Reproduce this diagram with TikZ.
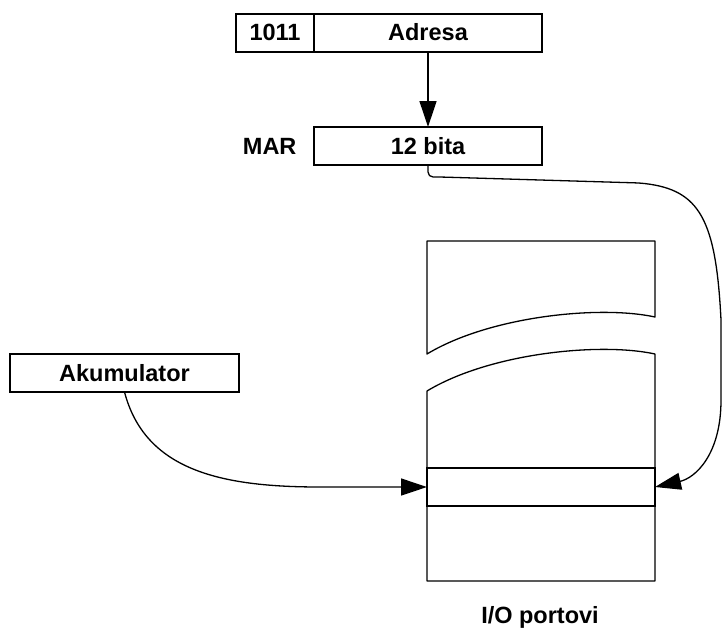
\documentclass[tikz,border=0pt]{standalone}
\usepackage{fontspec}
\setmainfont{Liberation Sans}
\usetikzlibrary{arrows.meta,positioning}

\begin{document}
\begin{tikzpicture}[x=1pt,y=-1pt,
    reg/.style={draw, line width=2pt, outer sep=0pt, inner sep=0pt,
        minimum height=38pt, font=\bfseries\fontsize{23.5}{28}\selectfont},
    mem/.style={draw, line width=1.3pt},
    tok/.style={line width=1.3pt, -{Triangle[length=26pt,width=17pt]}}]
    \useasboundingbox (0,0) rectangle (723,629);

    % Adresa i MAR
    \node[reg, minimum width=78pt] (bitovi) at (275,32.5) {1011};
    \node[reg, minimum width=228pt] (adresa) at (428,32.5) {Adresa};
    \node[reg, minimum width=228pt] (mar) at (428,146) {12 bita};
    \node[font=\bfseries\fontsize{23.5}{28}\selectfont, left=14pt of mar] (marlabel) {MAR};
    \draw[tok] (adresa.south) -- (mar.north);

    % Akumulator
    \node[reg, minimum width=229pt] (akumulator) at (124.5,373) {Akumulator};

    % I/O portovi
    \draw[mem, line join=round] (427,241) -- (655,241) -- (655,317)
        .. controls (600,305) and (490,316) .. (427,354) -- cycle;
    \draw[mem, line join=round] (427,581) -- (427,391)
        .. controls (490,353) and (600,342) .. (655,354) -- (655,581) -- cycle;
    \node[mem, minimum width=228pt, minimum height=38pt, outer sep=0pt] (slot) at (541,487) {};
    \node[font=\bfseries\fontsize{23.5}{28}\selectfont] (portovi) at (540,617) {I/O portovi};

    % veze
    \draw[tok] (akumulator.south) .. controls (145,470) and (220,487) .. (320,487) -- (slot.west);
    \draw[tok] (mar.south) [rounded corners=5pt] |- (440,177) -- (640,183) [sharp corners]
        .. controls (700,190) and (716,220) .. (721,320) -- (721,400)
        .. controls (721,455) and (695,478) .. (slot.east);
\end{tikzpicture}
\end{document}
